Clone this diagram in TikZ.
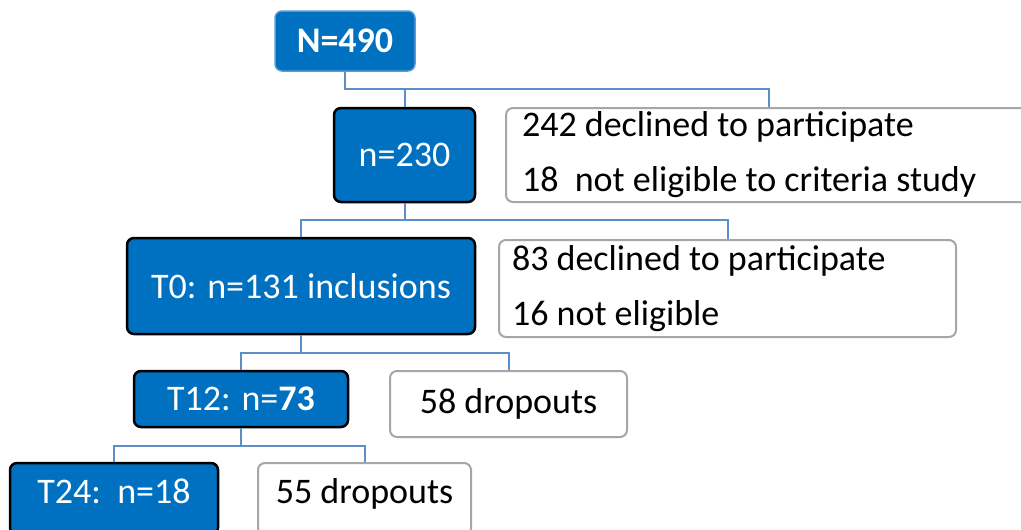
\documentclass[tikz,border=0pt]{standalone}
\usepackage{fontspec}
\setmainfont{Carlito}
\definecolor{boxblue}{HTML}{0070C0}
\definecolor{connblue}{HTML}{5B8FC9}
\definecolor{lightborder}{HTML}{5B9BD5}
\definecolor{greyborder}{HTML}{A6A6A6}
\tikzset{
  bluebox/.style={draw=black, line width=2.5pt, fill=boxblue, rounded corners=7pt,
    text=white, font=\fontsize{36}{43}\selectfont, inner sep=0pt},
  topbox/.style={bluebox, draw=lightborder, line width=1.5pt},
  whitebox/.style={draw=greyborder, line width=2pt, fill=white, rounded corners=7pt,
    text=black, font=\fontsize{36}{55}\selectfont, inner sep=0pt},
  conn/.style={draw=connblue, line width=2pt},
  raised/.style={text height=19pt, text depth=10pt}
}
\begin{document}
\begin{tikzpicture}[x=1pt,y=-1pt]
\clip (0,0) rectangle (1021,530);
\fill[white] (0,0) rectangle (1021,530);
% nodes
\node[topbox, minimum width=140pt, minimum height=60pt] (N) at (345,41) {\textbf{N=490}};
\node[bluebox, minimum width=141pt, minimum height=94pt] (n230) at (404.5,155) {n=230};
\node[whitebox, minimum width=530pt, minimum height=94pt, align=flush left, text width=498pt] (W1) at (771,155)
  {242 declined to participate\\18\ \ not eligible to criteria study};
\node[bluebox, minimum width=348pt, minimum height=96pt] (T0) at (301,286) {T0: n=131 inclusions};
\node[whitebox, minimum width=457pt, minimum height=97pt, align=flush left, text width=431pt] (W2) at (727.5,288.5)
  {83 declined to participate\\16 not eligible};
\node[bluebox, minimum width=214pt, minimum height=56pt] (T12) at (241,399) {T12: n=\textbf{73}};
\node[whitebox, minimum width=237pt, minimum height=66pt] (D58) at (508.5,404) {58 dropouts};
\node[bluebox, raised, minimum width=208pt, minimum height=72pt] (T24) at (114,499) {T24:\ \ n=18};
\node[whitebox, raised, minimum width=213pt, minimum height=72pt] (D55) at (364.5,499) {55 dropouts};
% junctions
\coordinate (j1) at (769,89);
\coordinate (j2) at (728,220);
\coordinate (j3) at (508.5,353);
\coordinate (j4) at (364.5,446);
% connectors
\draw[conn] (N.south) |- (j1) -- (j1 |- W1.north);
\draw[conn] (n230.north |- j1) -- (n230.north);
\draw[conn] (n230.south) -- (n230.south |- j2);
\draw[conn] (T0.north) |- (j2) -- (j2 |- W2.north);
\draw[conn] (T0.south) -- (T0.south |- j3);
\draw[conn] (T12.north) |- (j3) -- (D58.north);
\draw[conn] (T12.south) -- (T12.south |- j4);
\draw[conn] (T24.north) |- (j4) -- (D55.north);
\end{tikzpicture}
\end{document}
